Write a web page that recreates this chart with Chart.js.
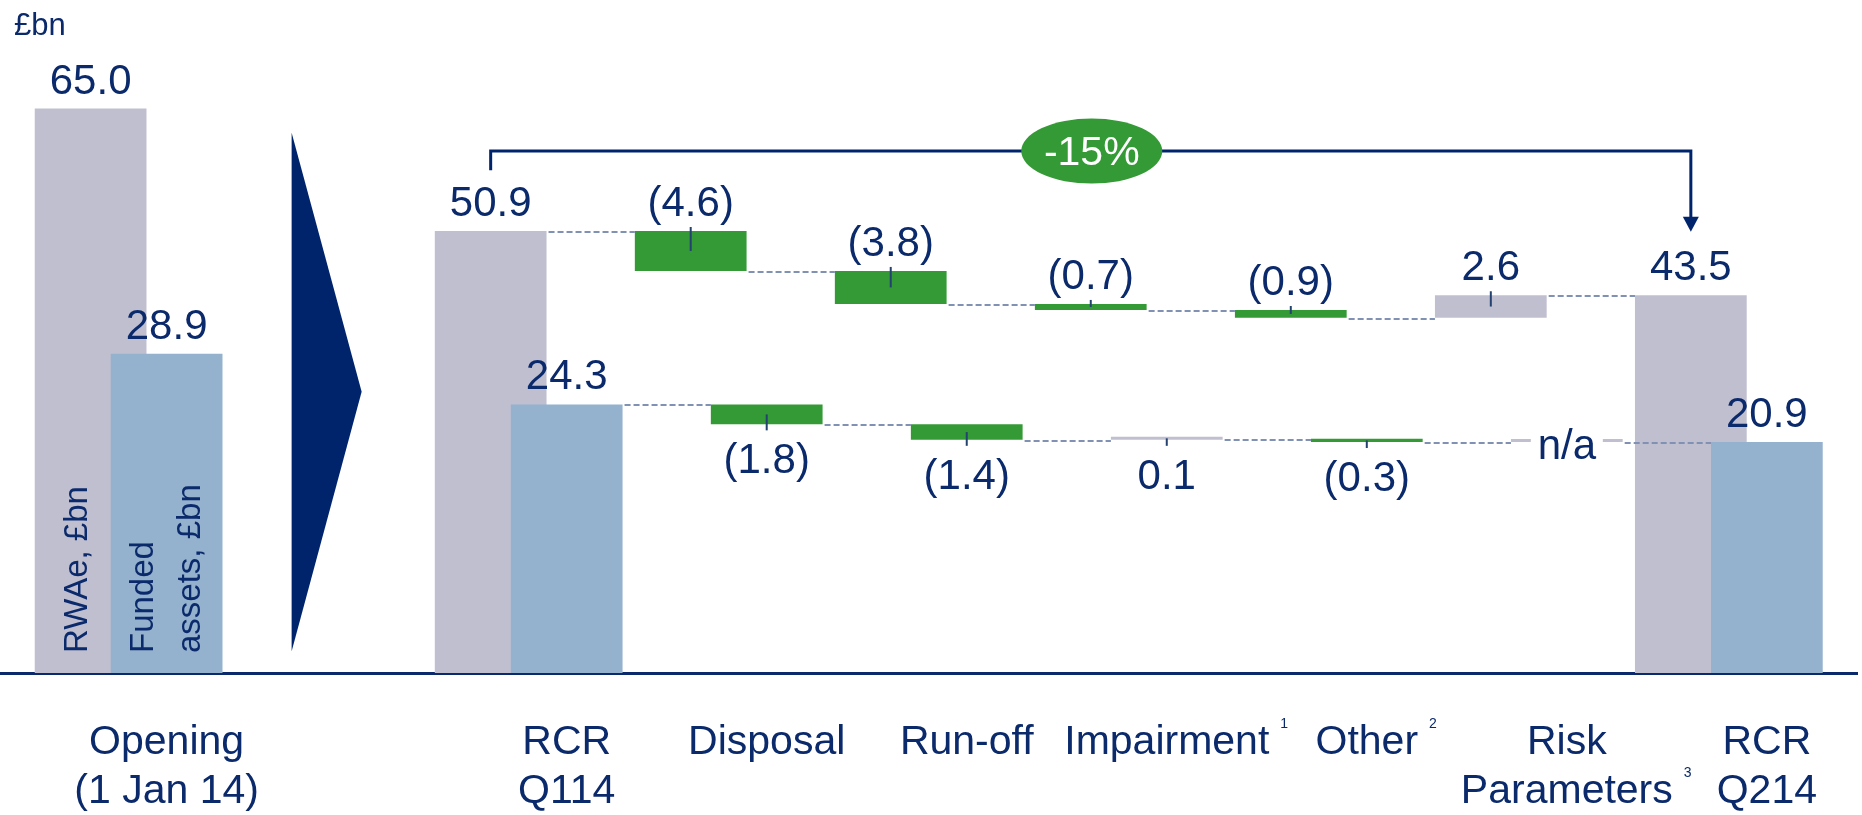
<!DOCTYPE html>
<html>
<head>
<meta charset="utf-8">
<script src="https://cdn.jsdelivr.net/npm/chart.js@4.4.1/dist/chart.umd.min.js"></script>
<style>
  html, body { margin: 0; padding: 0; background: #fff; }
  #wrap { width: 1862px; height: 815px; }
</style>
</head>
<body>
<div id="wrap"><canvas id="rcrChart"></canvas></div>
<script>
// Colours
const NAVY = '#0b2a6b';
const ARROW_NAVY = '#00246b';
const GREY = '#c0bfd0';
const BLUE = '#94b1cd';
const GREEN = '#349a35';
const DASH = '#8091b3';
const LEADER = '#23426f';
const FONT = "'Liberation Sans', Arial, sans-serif";

// Data (the empty category is the slot for the big arrow)
const categories = [['Opening', '(1 Jan 14)'], '', ['RCR', 'Q114'], 'Disposal', 'Run-off', 'Impairment', 'Other', ['Risk', 'Parameters'], ['RCR', 'Q214']];
const footnotes = ['', '', '', '', '', '1', '2', '3', ''];
const isTotal = [true, false, true, false, false, false, false, false, true];
const rwaeValues = [65.0, null, 50.9, -4.6, -3.8, -0.7, -0.9, 2.6, 43.5];
const fundedValues = [28.9, null, 24.3, -1.8, -1.4, 0.1, -0.3, null, 20.9]; // null at Risk Parameters = n/a
const seriesNames = [['RWAe, £bn'], ['Funded', 'assets, £bn']];
const unitLabel = '£bn';
const changeLabel = '-15%';

// Scale ranges (the two series are drawn to different scales in the original)
const rwaeMax = 77.5;
const fundedMax = 60.9;
const xMin = -0.643;
const xMax = 8.643;
const pairShift = 0.19;

// waterfall steps as [start, end]
function buildSteps(values) {
    let run = 0;
    return values.map((v, i) => {
        if (categories[i] === '') return null;
        if (isTotal[i]) { run = v; return [0, v]; }
        if (v === null) return [run, run];
        const from = run;
        run = Math.round((run + v) * 10) / 10;
        return [from, run];
    });
}

function toPoints(steps, shift) {
    const pts = [];
    steps.forEach((s, i) => { if (s) pts.push({ x: i + shift, y: s, i: i }); });
    return pts;
}

function colourFor(values, i, totalColour) {
    if (isTotal[i]) return totalColour;
    if (values[i] === null || values[i] >= 0) return GREY;
    return GREEN;
}

function fmt(v) {
    return v < 0 ? '(' + Math.abs(v).toFixed(1) + ')' : v.toFixed(1);
}

const rwaePoints = toPoints(buildSteps(rwaeValues), -pairShift);
const fundedPoints = toPoints(buildSteps(fundedValues), pairShift);
const tickValues = categories.map((c, i) => c === '' ? null : i + pairShift).filter(v => v !== null);
const tickLabels = categories.filter(c => c !== '');

const decorations = {
    id: 'decorations',
    beforeDatasetsDraw(chart) {
        const { ctx, scales } = chart;
        const cx = scales.x.getPixelForValue(1);
        ctx.save();
        ctx.fillStyle = ARROW_NAVY;
        ctx.beginPath();
        ctx.moveTo(cx - 37, scales.y.getPixelForValue(62.2));
        ctx.lineTo(cx + 33, scales.y.getPixelForValue(32.4));
        ctx.lineTo(cx - 37, scales.y.getPixelForValue(2.5));
        ctx.closePath();
        ctx.fill();
        ctx.restore();
    },
    afterDatasetsDraw(chart) {
        const { ctx, scales, chartArea } = chart;
        const series = [
            { meta: chart.getDatasetMeta(1), pts: rwaePoints, vals: rwaeValues, scale: scales.y, above: true },
            { meta: chart.getDatasetMeta(0), pts: fundedPoints, vals: fundedValues, scale: scales.y2, above: false }
        ];

        // dashed connectors
        ctx.save();
        ctx.strokeStyle = DASH;
        ctx.lineWidth = 2;
        ctx.setLineDash([6, 3]);
        series.forEach(s => {
            for (let k = 0; k < s.pts.length - 1; k++) {
                if (s.pts[k].i < 2) continue;
                const a = s.meta.data[k], b = s.meta.data[k + 1];
                const py = Math.round(s.scale.getPixelForValue(s.pts[k].y[1])) + 1;
                ctx.beginPath();
                ctx.moveTo(a.x + a.width / 2 + 2, py);
                ctx.lineTo(b.x - b.width / 2, py);
                ctx.stroke();
            }
        });
        ctx.restore();

        // leader ticks and value labels
        ctx.save();
        ctx.font = '42px ' + FONT;
        ctx.textAlign = 'center';
        ctx.textBaseline = 'alphabetic';
        series.forEach(s => {
            s.pts.forEach((p, k) => {
                const el = s.meta.data[k];
                const top = Math.min(el.y, el.base), bottom = Math.max(el.y, el.base);
                const mid = (top + bottom) / 2;
                const v = s.vals[p.i];
                if (v === null) {
                    // n/a marker
                    ctx.fillStyle = '#fff';
                    ctx.fillRect(el.x - 36, mid - 6, 72, 12);
                    ctx.fillStyle = NAVY;
                    ctx.fillText('n/a', el.x, mid + 18);
                    return;
                }
                if (!isTotal[p.i]) {
                    ctx.strokeStyle = LEADER;
                    ctx.lineWidth = 2;
                    ctx.beginPath();
                    if (s.above) { ctx.moveTo(el.x, top - 4); ctx.lineTo(el.x, mid); }
                    else { ctx.moveTo(el.x, mid); ctx.lineTo(el.x, bottom + 6); }
                    ctx.stroke();
                }
                ctx.fillStyle = NAVY;
                if (s.above || isTotal[p.i]) ctx.fillText(fmt(v), el.x, top - 15);
                else ctx.fillText(fmt(v), el.x, bottom + 49);
            });
        });
        ctx.restore();

        // bracket with -15% badge
        const rw = series[0];
        const elAt = i => rw.meta.data[rw.pts.findIndex(p => p.i === i)];
        const left = elAt(2), right = elAt(8), badge = elAt(5);
        const by = scales.y.getPixelForValue(60.1);
        const tip = scales.y.getPixelForValue(50.8);
        ctx.save();
        ctx.strokeStyle = ARROW_NAVY;
        ctx.fillStyle = ARROW_NAVY;
        ctx.lineWidth = 3;
        ctx.beginPath();
        ctx.moveTo(left.x, scales.y.getPixelForValue(57.9));
        ctx.lineTo(left.x, by);
        ctx.lineTo(right.x, by);
        ctx.lineTo(right.x, tip - 12);
        ctx.stroke();
        ctx.beginPath();
        ctx.moveTo(right.x - 8, tip - 15);
        ctx.lineTo(right.x + 8, tip - 15);
        ctx.lineTo(right.x, tip);
        ctx.closePath();
        ctx.fill();
        ctx.fillStyle = GREEN;
        ctx.beginPath();
        ctx.ellipse(badge.x + 1, by, 70.5, 32.5, 0, 0, Math.PI * 2);
        ctx.fill();
        ctx.fillStyle = '#fff';
        ctx.font = '41px ' + FONT;
        ctx.textAlign = 'center';
        ctx.fillText(changeLabel, badge.x + 1, by + 14);
        ctx.restore();

        // series names written up the opening bars
        ctx.save();
        ctx.fillStyle = NAVY;
        ctx.font = '33px ' + FONT;
        ctx.textAlign = 'left';
        const startY = chartArea.bottom - 20;
        [[series[0], [52]], [series[1], [42, 89]]].forEach(([s, offs], n) => {
            const el = s.meta.data[0];
            const leftEdge = el.x - el.width / 2;
            seriesNames[n].forEach((line, j) => {
                ctx.save();
                ctx.translate(leftEdge + offs[j], startY);
                ctx.rotate(-Math.PI / 2);
                ctx.fillText(line, 0, 0);
                ctx.restore();
            });
        });
        ctx.font = '31px ' + FONT;
        ctx.fillText(unitLabel, 14, 35);
        ctx.restore();

        // footnote markers on category labels
        ctx.save();
        ctx.fillStyle = NAVY;
        const firstBase = scales.x.top + 84;
        scales.x.ticks.forEach(t => {
            const ci = Math.round(t.value - pairShift);
            if (!footnotes[ci]) return;
            const lines = Array.isArray(categories[ci]) ? categories[ci] : [categories[ci]];
            const last = lines[lines.length - 1];
            ctx.font = '41px ' + FONT;
            const w = ctx.measureText(last).width;
            ctx.font = '14px ' + FONT;
            ctx.textAlign = 'left';
            const px = scales.x.getPixelForValue(t.value);
            ctx.fillText(footnotes[ci], px + w / 2 + 11, firstBase + (lines.length - 1) * 49.2 - 29);
        });
        ctx.restore();
    }
};

new Chart(document.getElementById('rcrChart'), {
    type: 'bar',
    data: {
        datasets: [
            {
                label: 'Funded assets',
                data: fundedPoints,
                yAxisID: 'y2',
                backgroundColor: fundedPoints.map(p => colourFor(fundedValues, p.i, BLUE))
            },
            {
                label: 'RWAe',
                data: rwaePoints,
                yAxisID: 'y',
                backgroundColor: rwaePoints.map(p => colourFor(rwaeValues, p.i, GREY))
            }
        ]
    },
    options: {
        responsive: true,
        maintainAspectRatio: false,
        animation: false,
        grouped: false,
        categoryPercentage: 1,
        barPercentage: 1.47,
        minBarLength: 3,
        borderSkipped: false,
        layout: { padding: 0 },
        scales: {
            x: {
                type: 'linear',
                min: xMin,
                max: xMax,
                offset: false,
                afterBuildTicks: axis => { axis.ticks = tickValues.map(v => ({ value: v })); },
                afterFit: axis => { axis.height = 142; },
                grid: { display: false, drawTicks: false },
                border: { display: true, color: NAVY, width: 3 },
                ticks: {
                    autoSkip: false,
                    maxRotation: 0,
                    minRotation: 0,
                    padding: 45,
                    color: NAVY,
                    font: { family: FONT, size: 41, lineHeight: 1.2 },
                    callback: (value, index) => tickLabels[index]
                }
            },
            y: { display: false, min: 0, max: rwaeMax },
            y2: { display: false, min: 0, max: fundedMax }
        },
        plugins: {
            legend: { display: false },
            tooltip: { enabled: false }
        }
    },
    plugins: [decorations]
});
</script>
</body>
</html>
